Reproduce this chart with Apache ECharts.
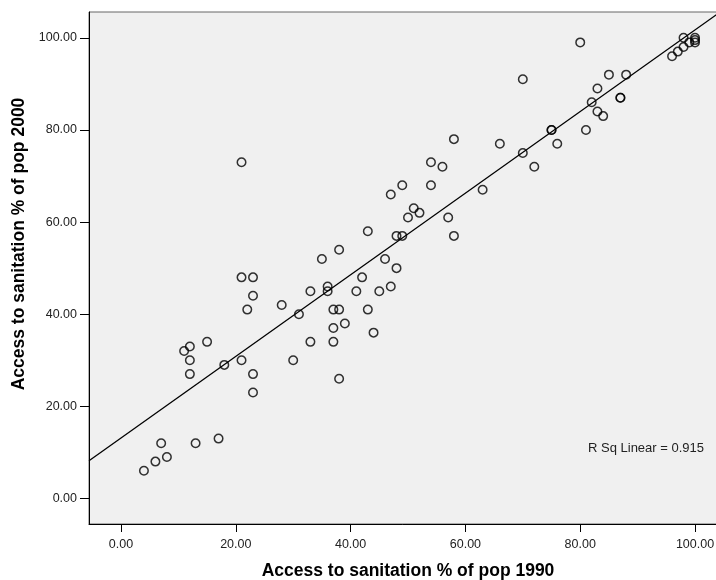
<!DOCTYPE html>
<html>
<head>
<meta charset="utf-8">
<script src="https://cdn.jsdelivr.net/npm/echarts@6/dist/echarts.min.js"></script>
<style>
html,body{margin:0;padding:0;background:#fff;}
#chart{width:716px;height:580px;}
</style>
</head>
<body>
<div id="chart"></div>
<script>
// Access to sanitation, % of population, 1990 (x) vs 2000 (y)
const sanitation1990 = [4,6,8,7,13,17,11,12,12,12,15,18,21,23,23,21,23,23,22,21,28,31,30,33,33,35,36,36,37,38,37,37,38,39,38,41,42,43,43,44,45,46,47,48,47,48,49,49,50,51,52,54,54,56,57,58,58,63,66,70,70,72,75,75,76,80,81,82,83,83,84,85,87,87,88,96,97,98,98,99,100,100,100];
const sanitation2000 = [6,8,9,12,12,13,32,33,30,27,34,29,30,27,23,48,48,44,41,73,42,40,30,45,34,52,46,45,41,41,37,34,26,38,54,45,48,41,58,36,45,52,46,50,66,57,57,68,61,63,62,68,73,72,61,57,78,67,77,75,91,72,80,80,77,99,80,86,89,84,83,92,87,87,92,96,97,98,100,99,100,99.5,99];
const tickValues = [0,20,40,60,80,100];
const rSqLabel = 'R Sq Linear = 0.915';
const xTitle = 'Access to sanitation % of pop 1990';
const yTitle = 'Access to sanitation % of pop 2000';

const xMin = -5.57, xMax = 105.57, yMin = -5.54, yMax = 105.6;

// least-squares fit from the data
const n = sanitation1990.length;
let sx=0, sy=0, sxx=0, sxy=0;
for (let i=0;i<n;i++){ const x=sanitation1990[i], y=sanitation2000[i]; sx+=x; sy+=y; sxx+=x*x; sxy+=x*y; }
const slope = (n*sxy - sx*sy)/(n*sxx - sx*sx);
const intercept = (sy - slope*sx)/n;

const points = sanitation1990.map((x,i)=>[x, sanitation2000[i]]);
const fitLine = [[xMin, intercept + slope*xMin],[xMax, intercept + slope*xMax]];

const FONT = '"Liberation Sans", Arial, sans-serif';
const chart = echarts.init(document.getElementById('chart'), null, {renderer:'canvas'});
chart.setOption({
  animation: false,
  backgroundColor: '#ffffff',
  grid: {
    left: 89, top: 12, right: -11, bottom: 56,
    show: true, backgroundColor: '#f0f0f0', borderColor: '#666666', borderWidth: 1,
    outerBoundsMode: 'none'
  },
  xAxis: {
    type: 'value', min: xMin, max: xMax,
    name: xTitle, nameLocation: 'middle', nameGap: 38,
    nameTextStyle: {fontFamily: FONT, fontSize: 17.5, fontWeight: 'bold', color: '#000'},
    axisLine: {show: true, onZero: false, lineStyle: {color: '#000', width: 1}},
    axisTick: {show: true, inside: false, length: 8, customValues: tickValues, lineStyle: {color: '#000', width: 1}},
    axisLabel: {show: true, customValues: tickValues, margin: 14, fontFamily: FONT, fontSize: 12.5, color: '#222',
      formatter: v => Number(v).toFixed(2)},
    splitLine: {show: false}
  },
  yAxis: {
    type: 'value', min: yMin, max: yMax,
    name: yTitle, nameLocation: 'middle', nameGap: 57,
    nameTextStyle: {fontFamily: FONT, fontSize: 17.5, fontWeight: 'bold', color: '#000', padding: [0,0,0,48]},
    axisLine: {show: true, onZero: false, lineStyle: {color: '#000', width: 1}},
    axisTick: {show: true, inside: false, length: 9, customValues: tickValues, lineStyle: {color: '#000', width: 1}},
    axisLabel: {show: true, customValues: tickValues, margin: 12, fontFamily: FONT, fontSize: 12.5, color: '#222',
      formatter: v => Number(v).toFixed(2)},
    splitLine: {show: false}
  },
  series: [
    {
      type: 'line', data: fitLine, symbol: 'none', clip: true, silent: true,
      lineStyle: {color: '#000', width: 1.3}, z: 2
    },
    {
      type: 'scatter', data: points, symbol: 'circle', symbolSize: 8.5, clip: true,
      itemStyle: {color: 'rgba(0,0,0,0)', borderColor: '#000', borderWidth: 1.5}, z: 3
    }
  ],
  graphic: [
    {type: 'text', left: 588, top: 442, silent: true,
     style: {text: rSqLabel, fontFamily: FONT, fontSize: 13, fill: '#222'}}
  ]
});
</script>
</body>
</html>
